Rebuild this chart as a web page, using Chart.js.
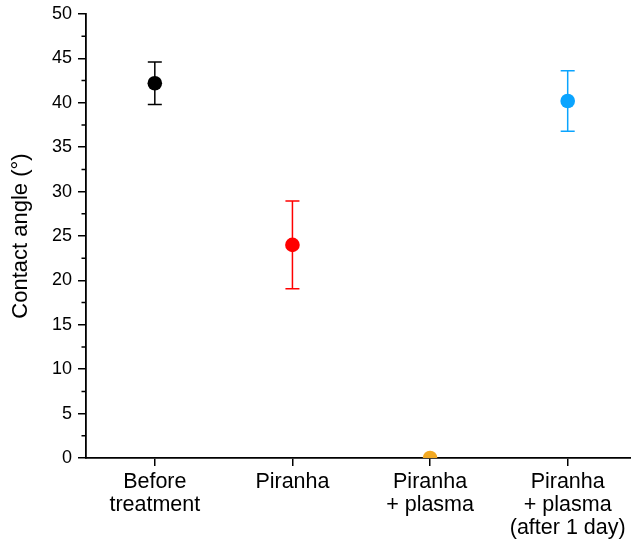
<!DOCTYPE html>
<html>
<head>
<meta charset="utf-8">
<script src="https://cdn.jsdelivr.net/npm/chart.js@4"></script>
<style>
  html, body { margin: 0; padding: 0; background: #fff; overflow: hidden; }
  #wrap { width: 631px; height: 547px; position: relative; }
</style>
</head>
<body>
<div id="wrap"><canvas id="angle-chart"></canvas></div>
<script>
// sample groups (multi-line tick labels)
const categories = [
  ['Before', 'treatment'],
  ['Piranha'],
  ['Piranha', '+ plasma'],
  ['Piranha', '+ plasma', '(after 1 day)']
];
const meanAngle = [42.2, 24.0, 0, 40.2];   // contact angle, degrees
const sdAngle = [2.4, 4.95, 0, 3.4];      // error bar half-height
const pointColors = ['#000000', '#ff0000', '#f2a922', '#0aa4ff'];

const FONT = "'Liberation Sans', Arial, sans-serif";

// error bars, drawn behind the dots
const errorBars = {
  id: 'errorBars',
  beforeDatasetsDraw(chart) {
    const ctx = chart.ctx;
    const y = chart.scales.y;
    const meta = chart.getDatasetMeta(0);
    ctx.save();
    meta.data.forEach((pt, i) => {
      if (!sdAngle[i]) return;
      const top = y.getPixelForValue(meanAngle[i] + sdAngle[i]);
      const bot = y.getPixelForValue(meanAngle[i] - sdAngle[i]);
      const cap = 7;
      ctx.strokeStyle = pointColors[i];
      ctx.lineWidth = 1.5;
      ctx.beginPath();
      ctx.moveTo(pt.x, top); ctx.lineTo(pt.x, bot);
      ctx.moveTo(pt.x - cap, top); ctx.lineTo(pt.x + cap, top);
      ctx.moveTo(pt.x - cap, bot); ctx.lineTo(pt.x + cap, bot);
      ctx.stroke();
    });
    ctx.restore();
  }
};

// minor ticks halfway between the y major ticks
const minorTicks = {
  id: 'minorTicks',
  afterDraw(chart) {
    const ctx = chart.ctx;
    const y = chart.scales.y;
    const x0 = chart.chartArea.left;
    ctx.save();
    ctx.strokeStyle = '#000';
    ctx.lineWidth = 1.5;
    ctx.beginPath();
    for (let i = 0; i < y.ticks.length - 1; i++) {
      const mid = (y.ticks[i].value + y.ticks[i + 1].value) / 2;
      const py = y.getPixelForValue(mid);
      ctx.moveTo(x0 - 4.5, py);
      ctx.lineTo(x0, py);
    }
    ctx.stroke();
    ctx.restore();
  }
};

new Chart(document.getElementById('angle-chart'), {
  type: 'scatter',
  data: {
    datasets: [{
      data: meanAngle.map((v, i) => ({ x: i, y: v })),
      pointRadius: 7.3,
      pointHoverRadius: 7.3,
      pointBackgroundColor: pointColors,
      pointBorderWidth: 0,
      clip: 0
    }]
  },
  options: {
    responsive: true,
    maintainAspectRatio: false,
    animation: false,
    layout: { autoPadding: false, padding: { top: 14, right: 0, bottom: 0, left: 0 } },
    plugins: { legend: { display: false }, tooltip: { enabled: false } },
    scales: {
      x: {
        type: 'linear',
        min: -0.5,
        max: 3.46,
        z: 1,
        afterBuildTicks: (scale) => { scale.ticks = categories.map((c, i) => ({ value: i })); },
        afterFit: (scale) => { scale.height = 89; },
        ticks: {
          color: '#000',
          font: { family: FONT, size: 21.5, lineHeight: 1.07 },
          padding: 5,
          maxRotation: 0,
          autoSkip: false,
          callback: (v) => categories[v]
        },
        grid: { drawOnChartArea: false, drawTicks: true, tickLength: 8, color: '#000', lineWidth: 1.5 },
        border: { display: true, color: '#000', width: 1.8 }
      },
      y: {
        min: 0,
        max: 50,
        z: 1,
        afterFit: (scale) => { scale.width = 86; scale.paddingTop = 0; scale.paddingBottom = 0; },
        ticks: {
          stepSize: 5,
          color: '#000',
          font: { family: FONT, size: 18 },
          padding: 6
        },
        grid: { drawOnChartArea: false, drawTicks: true, tickLength: 8, color: '#000', lineWidth: 1.5 },
        border: { display: true, color: '#000', width: 1.8 },
        title: {
          display: true,
          text: 'Contact angle (°)',
          color: '#000',
          font: { family: FONT, size: 22 },
          padding: { top: 8, bottom: 0 }
        }
      }
    }
  },
  plugins: [errorBars, minorTicks]
});
</script>
</body>
</html>
